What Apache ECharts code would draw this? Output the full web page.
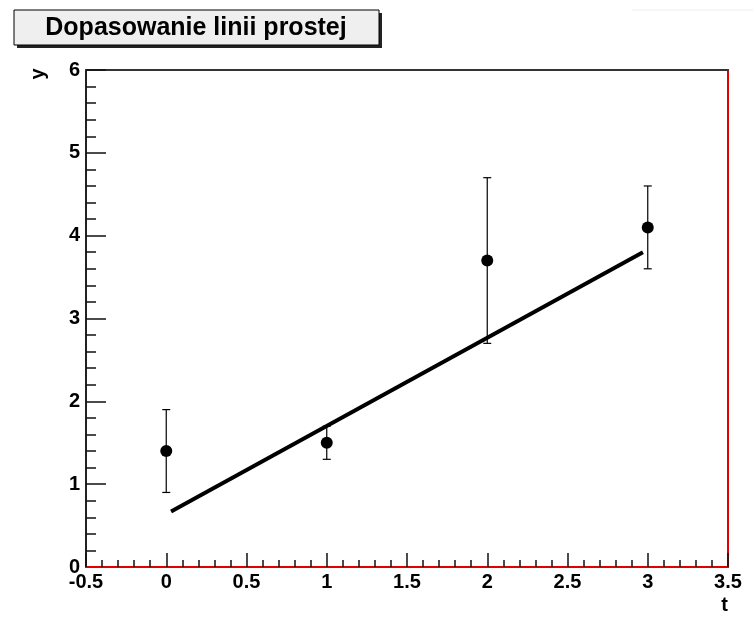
<!DOCTYPE html>
<html>
<head>
<meta charset="utf-8">
<script src="https://cdn.jsdelivr.net/npm/echarts@6/dist/echarts.min.js"></script>
<style>
html,body{margin:0;padding:0;background:#fff;}
#chart{width:753px;height:620px;}
</style>
</head>
<body>
<div id="chart"></div>
<script>
// Data
var title = 'Dopasowanie linii prostej';
var xName = 't';
var yName = 'y';
var pointT = [0, 1, 2, 3];
var pointY = [1.4, 1.5, 3.7, 4.1];
var pointErr = [0.5, 0.2, 1.0, 0.5];
var fitT = [0.03, 2.97];
var fitY = [0.67, 3.80];

var FONT = '"Liberation Sans", Arial, Helvetica, sans-serif';

var chart = echarts.init(document.getElementById('chart'), null, {renderer: 'canvas'});

var errData = pointT.map(function (t, i) {
  return [t, pointY[i], pointY[i] - pointErr[i], pointY[i] + pointErr[i]];
});
var ptData = pointT.map(function (t, i) { return [t, pointY[i]]; });
var fitData = fitT.map(function (t, i) { return [t, fitY[i]]; });

var labelStyle = {color: '#000', fontFamily: FONT, fontWeight: 'bold', fontSize: 20};

var option = {
  animation: false,
  backgroundColor: '#fff',
  grid: {left: 86, top: 70, right: 25, bottom: 53, containLabel: false},
  xAxis: [{
    type: 'value', min: -0.5, max: 3.5, interval: 0.5, position: 'bottom',
    axisLine: {show: true, onZero: false, lineStyle: {color: '#e00000', width: 2}},
    axisTick: {show: true, inside: true, length: 14, lineStyle: {color: '#111', width: 1.5}},
    minorTick: {show: true, splitNumber: 5, length: 7, lineStyle: {color: '#111', width: 1.5}},
    axisLabel: Object.assign({margin: 5}, labelStyle),
    splitLine: {show: false},
    name: xName, nameLocation: 'end', nameGap: 0,
    nameTextStyle: {color: '#000', fontFamily: FONT, fontWeight: 'bold', fontSize: 20, verticalAlign: 'top', align: 'right', padding: [28, 0, 0, 0]},
    z: 5
  }, {
    type: 'value', min: -0.5, max: 3.5, position: 'top',
    axisLine: {show: true, onZero: false, lineStyle: {color: '#333', width: 2}},
    axisTick: {show: false}, axisLabel: {show: false}, splitLine: {show: false}
  }],
  yAxis: [{
    type: 'value', min: 0, max: 6, interval: 1, position: 'left',
    axisLine: {show: true, onZero: false, lineStyle: {color: '#222', width: 2}},
    axisTick: {show: true, inside: true, length: 20, lineStyle: {color: '#111', width: 1.5}},
    minorTick: {show: true, splitNumber: 5, length: 10, lineStyle: {color: '#111', width: 1.5}},
    axisLabel: Object.assign({margin: 6}, labelStyle),
    splitLine: {show: false}
  }, {
    type: 'value', min: 0, max: 6, position: 'right',
    axisLine: {show: true, onZero: false, lineStyle: {color: '#e00000', width: 2}},
    axisTick: {show: false}, axisLabel: {show: false}, splitLine: {show: false}
  }],
  series: [{
    type: 'custom',
    xAxisIndex: 0, yAxisIndex: 0,
    data: errData,
    renderItem: function (params, api) {
      var x = api.value(0);
      var lo = api.coord([x, api.value(2)]);
      var hi = api.coord([x, api.value(3)]);
      var cap = 4;
      var st = {stroke: '#000', lineWidth: 1.2};
      return {
        type: 'group',
        children: [
          {type: 'line', shape: {x1: lo[0], y1: lo[1], x2: hi[0], y2: hi[1]}, style: st},
          {type: 'line', shape: {x1: lo[0] - cap, y1: lo[1], x2: lo[0] + cap, y2: lo[1]}, style: st},
          {type: 'line', shape: {x1: hi[0] - cap, y1: hi[1], x2: hi[0] + cap, y2: hi[1]}, style: st}
        ]
      };
    },
    z: 2
  }, {
    type: 'scatter',
    xAxisIndex: 0, yAxisIndex: 0,
    data: ptData,
    symbol: 'circle', symbolSize: 12,
    itemStyle: {color: '#000', opacity: 1},
    z: 3
  }, {
    type: 'line',
    xAxisIndex: 0, yAxisIndex: 0,
    data: fitData,
    showSymbol: false, symbol: 'none',
    lineStyle: {color: '#000', width: 4},
    z: 4
  }],
  graphic: [
    {type: 'rect', shape: {x: 17, y: 13, width: 365, height: 35}, style: {fill: '#222'}, z: 10},
    {type: 'rect', shape: {x: 14, y: 10, width: 365, height: 35}, style: {fill: '#efefef', stroke: '#000', lineWidth: 1}, z: 11},
    {type: 'text', x: 196, y: 28, style: {text: title, fill: '#000', font: 'bold 25px ' + FONT, textAlign: 'center', textVerticalAlign: 'middle'}, z: 12},
    {type: 'text', x: 38, y: 74, rotation: Math.PI / 2, style: {text: yName, fill: '#000', font: 'bold 20px ' + FONT, textAlign: 'center', textVerticalAlign: 'middle'}, z: 12},
    {type: 'line', shape: {x1: 632, y1: 10, x2: 753, y2: 10}, style: {stroke: '#eeeeee', lineWidth: 1}, z: 1}
  ]
};
chart.setOption(option);
</script>
</body>
</html>
